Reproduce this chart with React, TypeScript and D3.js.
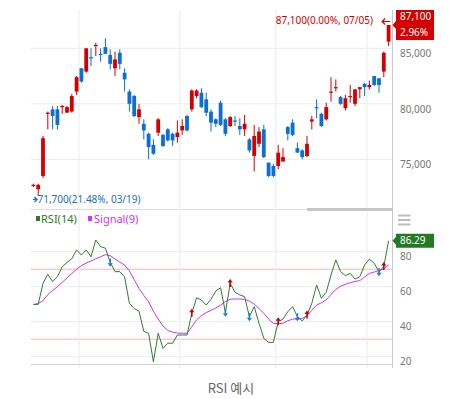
import React from 'react';
import * as d3 from 'd3';

// trading days shown (2024)
const dates = [
  '03/18', '03/19', '03/20', '03/21', '03/22', '03/25', '03/26', '03/27', '03/28', '03/29',
  '04/01', '04/02', '04/03', '04/04', '04/05', '04/08', '04/09', '04/11', '04/12', '04/15',
  '04/16', '04/17', '04/18', '04/19', '04/22', '04/23', '04/24', '04/25', '04/26', '04/29',
  '04/30', '05/02', '05/03', '05/07', '05/08', '05/09', '05/10', '05/13', '05/14', '05/16',
  '05/17', '05/20', '05/21', '05/22', '05/23', '05/24', '05/27', '05/28', '05/29', '05/30',
  '05/31', '06/03', '06/04', '06/05', '06/07', '06/10', '06/11', '06/12', '06/13', '06/14',
  '06/17', '06/18', '06/19', '06/20', '06/21', '06/24', '06/25', '06/26', '06/27', '06/28',
  '07/01', '07/02', '07/03', '07/04', '07/05',
];

const opens = [
  72600, 72300, 73500, 79100, 79500, 79500, 79700, 79200, 79300, 81100,
  83200, 82900, 84200, 85200, 84500, 85100, 84400, 83200, 84600, 82800,
  81100, 80700, 78800, 78200, 77300, 76300, 77400, 77200, 77700, 77300,
  77000, 77600, 78900, 79500, 80700, 81000, 80400, 79300, 78600, 80100,
  78600, 78000, 78500, 78000, 77700, 76800, 75300, 76400, 77700, 74700,
  74400, 74400, 74800, 77900, 78300, 76000, 75800, 75300, 78400, 79700,
  79100, 78600, 81000, 81400, 80600, 79600, 80600, 80000, 81300, 81800,
  81500, 82500, 82300, 82900, 85600,
];
const highs = [
  72800, 72800, 77100, 79300, 79800, 79800, 79900, 79800, 80900, 82500,
  83200, 85000, 85000, 85500, 85000, 85900, 84900, 84700, 84900, 83200,
  81300, 80800, 80000, 78600, 77400, 76800, 78700, 77300, 77800, 77400,
  78500, 78600, 79000, 81300, 81300, 81400, 81000, 79500, 78700, 80300,
  78700, 78900, 78900, 78700, 79000, 76900, 78100, 77900, 78100, 74700,
  74600, 76300, 76000, 78000, 78600, 76500, 75900, 77100, 78900, 80400,
  79200, 80100, 82400, 82200, 80700, 80800, 81700, 81300, 81500, 81900,
  82100, 82500, 82300, 84700, 87100,
];
const lows = [
  72500, 71700, 73300, 77700, 77700, 77700, 79100, 79200, 79200, 80800,
  81900, 82800, 83400, 84300, 83800, 84500, 83100, 82500, 83100, 81100,
  79300, 78800, 78200, 76800, 75000, 75400, 77100, 76100, 76600, 76200,
  76500, 77200, 77500, 79300, 80500, 79600, 78900, 77500, 77900, 78000,
  77100, 77900, 78000, 77200, 77100, 75600, 73900, 76100, 75100, 73400,
  73400, 74100, 74800, 76700, 77100, 75600, 75000, 75200, 77700, 78700,
  77900, 78500, 80200, 81100, 79900, 79400, 80100, 79800, 80500, 80700,
  81300, 81600, 81000, 82400, 85200,
];
const closes = [
  72700, 72700, 76900, 79200, 78900, 78100, 79800, 79700, 80700, 82400,
  82000, 85000, 84100, 85300, 84400, 84500, 83600, 84000, 83600, 82200,
  80000, 78900, 79500, 77600, 76100, 75500, 78600, 76200, 76700, 76700,
  77400, 78000, 77600, 81200, 81200, 79700, 79200, 78300, 78200, 78100,
  77300, 78800, 78400, 77700, 78200, 75800, 77100, 77500, 75200, 73500,
  73500, 75600, 75200, 77300, 77200, 75600, 75200, 76400, 78600, 79600,
  78000, 79700, 81100, 81500, 80000, 80500, 80700, 81300, 81500, 81500,
  81700, 81700, 81700, 84600, 87100,
];

const rsi = [
  49.9, 49.9, 61.9, 67.1, 62.9, 65.7, 71.4, 73.9, 76.0, 81.0,
  78.1, 81.0, 77.1, 86.7, 82.9, 82.0, 74.0, 68.6, 68.6, 65.7,
  50.5, 47.5, 46.0, 34.5, 33.4, 17.1, 33.4, 24.8, 27.7, 27.7,
  32.4, 32.4, 32.4, 44.8, 53.7, 52.4, 49.5, 52.8, 57.5, 59.4,
  45.4, 61.9, 56.8, 55.3, 54.3, 42.9, 48.6, 39.1, 30.5, 28.2,
  28.2, 40.0, 41.5, 45.7, 48.6, 42.9, 40.4, 43.8, 50.5, 61.0,
  53.4, 56.8, 66.7, 75.3, 68.6, 66.3, 67.6, 64.4, 65.7, 72.4,
  75.8, 73.4, 68.6, 71.5, 86.29,
];
const signal = [
  49.9, 50.3, 52.0, 55.5, 57.8, 60.0, 62.5, 65.0, 67.5, 70.0,
  72.0, 73.5, 74.7, 76.0, 77.1, 78.3, 77.8, 75.8, 74.0, 72.4,
  69.0, 64.0, 59.0, 55.0, 51.4, 46.0, 41.5, 37.5, 35.0, 34.0,
  33.5, 33.4, 33.4, 37.1, 41.0, 43.5, 45.2, 46.5, 47.8, 49.5,
  51.5, 52.8, 53.0, 53.0, 52.8, 51.8, 50.0, 47.5, 44.8, 41.5,
  39.0, 38.8, 39.1, 40.5, 41.5, 41.5, 41.8, 43.4, 46.5, 49.5,
  50.8, 52.5, 55.5, 58.5, 60.2, 61.4, 62.3, 63.0, 63.5, 65.5,
  67.6, 68.4, 69.2, 70.3, 72.4,
];

// crossing marks seen on the RSI panel
const buyMarks = [33, 41, 51, 57, 73];
const sellMarks = [16, 40, 45, 55, 72];

const priceTicks = [75000, 80000, 85000];
const rsiTicks = [20, 40, 60, 80];
const rsiBands = [30, 70];

const UP = '#d40000';
const DOWN = '#0b6fd3';
const GRID = '#ececec';
const FONT = '"Noto Sans", sans-serif';

const left = 31, right = 391, axisX = 392;
const pTop = 10, pBottom = 208;
const rTop = 212, rBottom = 364;

export default function App() {
  const idx = d3.range(closes.length);
  const x = d3.scaleBand<number>().domain(idx).range([left, right]);
  const cx = (i: number) => (x(i) as number) + x.bandwidth() / 2;
  const y = d3.scaleLinear().domain([75000, 85000]).range([159.3, 48.3]);
  const ry = d3.scaleLinear().domain([20, 80]).range([356.7, 251.7]);

  const fmt = d3.format(',');
  const pct = d3.format('.2f');
  const last = closes[closes.length - 1];
  const prev = closes[closes.length - 2];
  const hiI = d3.maxIndex(highs);
  const loI = d3.minIndex(lows);
  const hiTxt = `${fmt(highs[hiI])}(${pct(Math.abs(last / highs[hiI] - 1) * 100)}%, ${dates[hiI]})`;
  const loTxt = `${fmt(lows[loI])}(${pct(Math.abs(last / lows[loI] - 1) * 100)}%, ${dates[loI]})`;

  const monthStarts = idx.filter(i => i > 0 && dates[i].slice(0, 2) !== dates[i - 1].slice(0, 2));

  const rsiLine = d3.line<number>().x((_, i) => cx(i)).y(d => ry(d));
  const bw = 3.8;

  const lastY = y(last);
  const rsiLast = rsi[rsi.length - 1];
  const rsiLastY = ry(rsiLast);

  return (
    <svg width={449} height={399} style={{ position: 'absolute', left: 0, top: 0 }} fontFamily={FONT}>
      <defs>
        <clipPath id="pclip"><rect x={left} y={pTop} width={axisX - left} height={pBottom - pTop} /></clipPath>
        <clipPath id="rclip"><rect x={left} y={rTop} width={axisX - left} height={rBottom - rTop} /></clipPath>
      </defs>

      {/* grids */}
      {priceTicks.map(t => (
        <line key={'pg' + t} x1={left} x2={axisX} y1={y(t)} y2={y(t)} stroke={GRID} />
      ))}
      {rsiTicks.map(t => (
        <line key={'rg' + t} x1={left} x2={axisX} y1={ry(t)} y2={ry(t)} stroke={GRID} />
      ))}
      {rsiBands.map(t => (
        <line key={'rb' + t} x1={left} x2={axisX} y1={ry(t)} y2={ry(t)} stroke="#f3b5b5" />
      ))}
      {monthStarts.map(i => (
        <g key={'mv' + i}>
          <line x1={x(i)} x2={x(i)} y1={pTop} y2={pBottom} stroke={GRID} />
          <line x1={x(i)} x2={x(i)} y1={rTop} y2={368} stroke={GRID} />
        </g>
      ))}

      {/* candles */}
      <g clipPath="url(#pclip)">
        {idx.map(i => {
          const up = closes[i] >= opens[i];
          const col = up ? UP : DOWN;
          const top = y(Math.max(opens[i], closes[i]));
          const bot = y(Math.min(opens[i], closes[i]));
          return (
            <g key={'c' + i}>
              <line x1={cx(i)} x2={cx(i)} y1={y(highs[i])} y2={y(lows[i])} stroke={col} strokeWidth={1} />
              <rect x={cx(i) - bw / 2} y={top} width={bw} height={Math.max(1.2, bot - top)} fill={col} />
            </g>
          );
        })}
      </g>

      {/* high / low notes */}
      <text x={373} y={y(highs[hiI]) - 0.5} fontSize={10} fill={UP} textAnchor="end">{hiTxt}</text>
      <path d={`M${cx(hiI) + 1.5},${y(highs[hiI]) - 3.5} h-8 m3,-3 l-3,3 l3,3`} fill="none" stroke={UP} strokeWidth={1.2} />
      <path d={`M33,${y(lows[loI]) + 3.5} h3.5 m-2,-2.5 l2.5,2.5 l-2.5,2.5`} fill="none" stroke="#1a6fc9" strokeWidth={1.3} />
      <text x={37.5} y={y(lows[loI]) + 7.3} fontSize={10} fill="#1a6fc9">{loTxt}</text>

      {/* separators */}
      <line x1={left} x2={axisX} y1={209.5} y2={209.5} stroke="#dedede" />
      <rect x={307} y={208} width={85} height={3} fill="#c6c6c6" />
      <line x1={left} x2={axisX} y1={rBottom + 0.5} y2={rBottom + 0.5} stroke="#d0d0d0" />
      <line x1={axisX + 0.5} x2={axisX + 0.5} y1={pTop} y2={368} stroke="#c8c8c8" />

      {/* price axis */}
      {priceTicks.map(t => (
        <text key={'pt' + t} x={400} y={y(t) + 9} fontSize={10} fill="#777">{fmt(t)}</text>
      ))}
      <path d={`M392.5,${lastY} L396,${lastY - 4} V${lastY - 15} H434 V${lastY + 15} H396 V${lastY + 4} Z`} fill={UP} />
      <text x={400} y={lastY - 4.5} fontSize={10} fill="#fff">{fmt(last)}</text>
      <text x={400} y={lastY + 11} fontSize={10} fill="#fff">{pct((last / prev - 1) * 100)}%</text>

      {/* RSI panel */}
      <g fontSize={11}>
        <rect x={36} y={216} width={4} height={5} fill="#2b7a2d" />
        <text x={41} y={223} fill="#2b7a2d">RSI(14)</text>
        <rect x={88} y={216} width={4} height={5} fill="#cc33ff" />
        <text x={94} y={223} fill="#cc33ff">Signal(9)</text>
      </g>
      <g clipPath="url(#rclip)">
        <path d={rsiLine(signal) || ''} fill="none" stroke="#cc33ff" strokeWidth={1} />
        <path d={rsiLine(rsi) || ''} fill="none" stroke="#2f7d32" strokeWidth={1} />
        {buyMarks.map(i => (
          <path key={'b' + i}
            d={`M${cx(i) - 2.6},${ry(rsi[i]) - 1} L${cx(i)},${ry(rsi[i]) - 4.5} L${cx(i) + 2.6},${ry(rsi[i]) - 1} H${cx(i) + 0.8} V${ry(rsi[i]) + 3.5} H${cx(i) - 0.8} V${ry(rsi[i]) - 1} Z`}
            fill={UP} />
        ))}
        {sellMarks.map(i => (
          <path key={'s' + i}
            d={`M${cx(i) - 2.6},${ry(rsi[i]) + 1} L${cx(i)},${ry(rsi[i]) + 4.5} L${cx(i) + 2.6},${ry(rsi[i]) + 1} H${cx(i) + 0.8} V${ry(rsi[i]) - 3.5} H${cx(i) - 0.8} V${ry(rsi[i]) + 1} Z`}
            fill="#1f7fd6" />
        ))}
      </g>
      {rsiTicks.map(t => (
        <text key={'rt' + t} x={400} y={ry(t) + 8} fontSize={10} fill="#777">{t}</text>
      ))}
      <g fill="#bdbdbd">
        <rect x={398} y={214.5} width={12.5} height={2} />
        <rect x={398} y={219} width={12.5} height={2} />
        <rect x={398} y={223.5} width={12.5} height={2} />
      </g>
      <path d={`M392.5,${rsiLastY} L396,${rsiLastY - 4} V${rsiLastY - 7} H434 V${rsiLastY + 7} H396 V${rsiLastY + 4} Z`} fill="#237a24" />
      <text x={400} y={rsiLastY + 3.6} fontSize={10} fill="#fff">{pct(rsiLast)}</text>

      <text x={231} y={393} fontSize={13} fill="#666" textAnchor="middle" fontFamily='"Noto Sans CJK KR", sans-serif'>RSI 예시</text>
    </svg>
  );
}
